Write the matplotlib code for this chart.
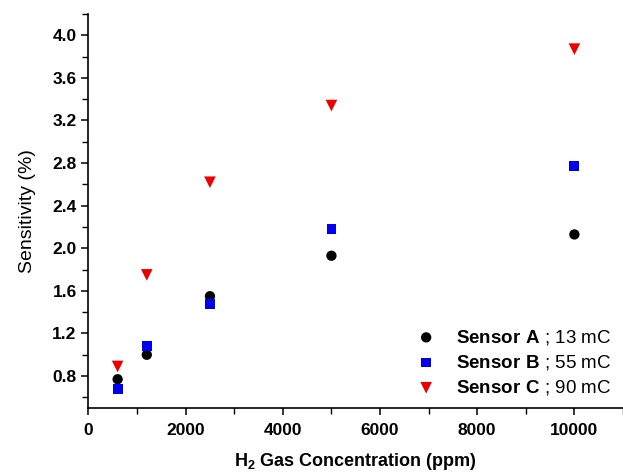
import matplotlib
matplotlib.use("Agg")
import matplotlib.pyplot as plt
from matplotlib.ticker import MultipleLocator

# H2 concentration (ppm) and sensitivity (%)
conc = [600, 1200, 2500, 5000, 10000]
sens_a = [0.77, 1.00, 1.55, 1.93, 2.13]
sens_b = [0.68, 1.08, 1.48, 2.18, 2.77]
sens_c = [0.89, 1.75, 2.62, 3.34, 3.87]

labels = [
    r"$\mathbf{Sensor\ A}$ ; 13 mC",
    r"$\mathbf{Sensor\ B}$ ; 55 mC",
    r"$\mathbf{Sensor\ C}$ ; 90 mC",
]

plt.rcParams["font.family"] = ["Liberation Sans", "DejaVu Sans"]
plt.rcParams["mathtext.fontset"] = "custom"
plt.rcParams["mathtext.rm"] = "Liberation Sans"
plt.rcParams["mathtext.bf"] = "Liberation Sans:bold"

fig = plt.figure(figsize=(6.23, 4.73), dpi=100)
ax = fig.add_axes([0.142, 0.1374, 0.858, 0.833])

ax.scatter(conc, sens_a, marker="o", s=55, color="black", edgecolors="none", label=labels[0], zorder=3)
ax.scatter(conc, sens_b, marker="s", s=50, color="#0000ee", edgecolors="none", label=labels[1], zorder=3)
ax.scatter(conc, sens_c, marker="v", s=70, color="#ee0000", edgecolors="none", label=labels[2], zorder=3)

ax.set_xlim(0, 11000)
ax.set_ylim(0.5, 4.2)
ax.xaxis.set_major_locator(MultipleLocator(2000))
ax.xaxis.set_minor_locator(MultipleLocator(1000))
ax.yaxis.set_major_locator(MultipleLocator(0.4))
ax.yaxis.set_minor_locator(MultipleLocator(0.2))
ax.yaxis.set_major_formatter(matplotlib.ticker.FormatStrFormatter("%.1f"))

for side in ("top", "right"):
    ax.spines[side].set_visible(False)
for side in ("left", "bottom"):
    ax.spines[side].set_linewidth(1.2)

ax.tick_params(which="major", direction="out", length=5, width=1.1, labelsize=12.5)
ax.tick_params(which="minor", direction="out", length=4, width=1.0)
ax.tick_params(axis="x", which="major", pad=6)
for lbl in ax.get_xticklabels() + ax.get_yticklabels():
    lbl.set_fontweight("bold")

ax.set_ylabel("Sensitivity (%)", fontsize=14, labelpad=12)
ax.set_xlabel(r"$\mathbf{H_2}$ Gas Concentration (ppm)", fontsize=13, fontweight="bold", labelpad=9)

ax.legend(loc="upper left", bbox_to_anchor=(0.669, 0.307), bbox_transform=fig.transFigure,
          frameon=False, fontsize=13.5, handlelength=1.0, handletextpad=1.1,
          labelspacing=0.33, borderpad=0, borderaxespad=0, scatterpoints=1)

fig.savefig("out.png", dpi=100)
